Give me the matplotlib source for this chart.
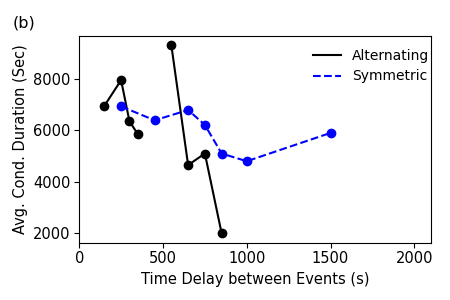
import matplotlib
matplotlib.use("Agg")
from matplotlib import pyplot as plt

# Alternating events (two separate runs)
alt_delay_1 = [150, 250, 300, 350]
alt_duration_1 = [6950, 7950, 6350, 5850]
alt_delay_2 = [550, 650, 750, 850]
alt_duration_2 = [9300, 4650, 5100, 2000]

# Symmetric events
sym_delay = [250, 450, 650, 750, 850, 1000, 1500]
sym_duration = [6930, 6390, 6790, 6210, 5100, 4800, 5900]

plt.rcParams["font.size"] = 10.5

fig = plt.figure(figsize=(4.5, 3), dpi=100)
ax = fig.add_axes([0.176, 0.191, 0.782, 0.689])

ax.plot(alt_delay_1, alt_duration_1, "k-", linewidth=1.5, label="Alternating")
ax.plot(alt_delay_2, alt_duration_2, "k-", linewidth=1.5)
ax.plot(alt_delay_1 + alt_delay_2, alt_duration_1 + alt_duration_2, "ko",
        markersize=6)
ax.plot(sym_delay, sym_duration, "b--", linewidth=1.5, label="Symmetric")
ax.plot(sym_delay, sym_duration, "bo", markersize=6)

ax.set_xlim(0, 2100)
ax.set_xticks([0, 500, 1000, 1500, 2000])
ax.set_yticks([2000, 4000, 6000, 8000])
ax.tick_params(labelsize=10.5, pad=2.5)
ax.set_xlabel("Time Delay between Events (s)", fontsize=10.5)
ax.set_ylabel("Avg. Cond. Duration (Sec)", fontsize=10.5)
ax.legend(loc="upper right", frameon=False, fontsize=10,
          bbox_to_anchor=(1.03, 1.0))

fig.text(0.029, 1 - 15 / 300, "(b)", fontsize=11.5, va="top")

plt.savefig("out.png", dpi=100)
